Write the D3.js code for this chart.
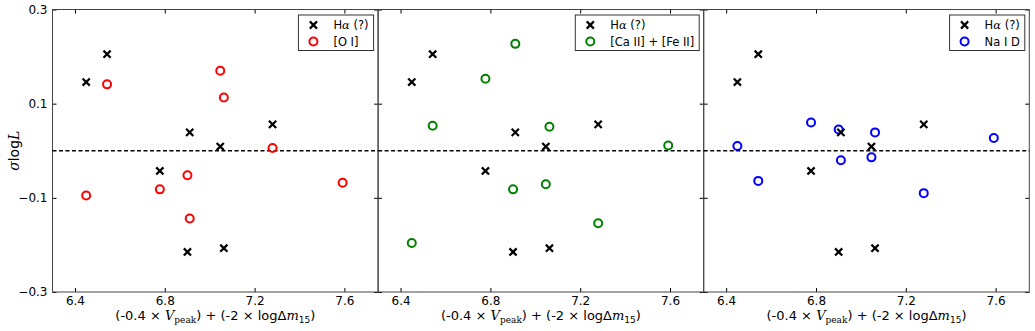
<!DOCTYPE html>
<html>
<head>
<meta charset="utf-8">
<script src="https://cdn.jsdelivr.net/npm/d3@7"></script>
<style>
	body{margin:0;background:#fff;}
	svg{display:block;font-family:"DejaVu Sans",sans-serif;}
</style>
</head>
<body>
<svg id="chart" width="1035" height="331"></svg>
<script>
// one x value per supernova, shared by every panel
const xVals = [6.450, 6.543, 6.778, 6.901, 6.911, 7.047, 7.063, 7.280, 7.592];
// H-alpha residuals (no value for the last object)
const haVals = [0.146, 0.205, -0.043, -0.215, 0.039, 0.009, -0.207, 0.056, null];
const oiVals = [-0.095, 0.141, -0.082, -0.052, -0.144, 0.170, 0.113, 0.006, -0.068];
const cafeVals = [-0.196, 0.053, 0.153, -0.082, 0.227, -0.071, 0.051, -0.154, 0.011];
const naidVals = [0.010, -0.064, 0.060, 0.045, -0.020, -0.014, 0.039, -0.090, 0.027];

const xTicks = [6.4, 6.8, 7.2, 7.6];
const yTicks = [-0.3, -0.1, 0.1, 0.3];
const panelNames = ["[O I]", "[Ca II] + [Fe II]", "Na I D"];
const panelColours = ["red", "green", "blue"];
const panelVals = [oiVals, cafeVals, naidVals];

let svg = d3.select("#chart");
let left = 52.5,
	panelW = 325.6,
	plotTop = 9.5,
	plotBottom = 292;

let y = d3.scaleLinear().domain([-0.3, 0.3]).range([plotBottom, plotTop]);

// cross marker path, centred on 0,0
function cross(s){
	return `M${-s},${-s}L${s},${s}M${-s},${s}L${s},${-s}`;
}

panelNames.forEach((name, i) => {
	let x0 = left + i*panelW;
	let x = d3.scaleLinear().domain([6.3, 7.75]).range([x0, x0 + panelW]);
	let g = svg.append("g");

	// axes, ticks pointing inward
	g.append("g").attr("transform", `translate(0,${plotBottom})`)
		.call(d3.axisBottom(x).tickValues(xTicks).tickSizeInner(-4).tickSizeOuter(0).tickPadding(4).tickFormat(d3.format(".1f")));
	g.append("g").attr("transform", `translate(0,${plotTop})`)
		.call(d3.axisTop(x).tickValues(xTicks).tickSizeInner(-4).tickSizeOuter(0).tickFormat(""));
	g.append("g").attr("transform", `translate(${x0},0)`)
		.call(d3.axisLeft(y).tickValues(yTicks).tickSizeInner(-4).tickSizeOuter(0).tickPadding(5)
			.tickFormat(i == 0 ? d3.format(".1f") : ""));
	g.append("g").attr("transform", `translate(${x0 + panelW},0)`)
		.call(d3.axisRight(y).tickValues(yTicks).tickSizeInner(-4).tickSizeOuter(0).tickFormat(""));

	g.selectAll(".domain").remove();
	g.selectAll(".tick line").attr("stroke", "#000");
	g.selectAll(".tick text").attr("fill", "#000").style("font-size", "12px").style("font-family", "DejaVu Sans");

	// frame
	g.append("rect")
		.attr("x", x0).attr("y", plotTop)
		.attr("width", panelW).attr("height", plotBottom - plotTop)
		.attr("fill", "none").attr("stroke", "#444").attr("stroke-width", 1);

	// zero line
	g.append("line")
		.attr("x1", x0).attr("x2", x0 + panelW)
		.attr("y1", y(0)).attr("y2", y(0))
		.attr("stroke", "#000").attr("stroke-width", 1.4)
		.attr("stroke-dasharray", "4,2.5");

	// circles for the line in question
	let vals = panelVals[i];
	g.selectAll("circle.pt")
		.data(xVals.map((d, j) => ({x: d, y: vals[j]})).filter(d => d.y != null))
		.join("circle")
		.attr("class", "pt")
		.attr("cx", d => x(d.x)).attr("cy", d => y(d.y))
		.attr("r", 4)
		.attr("fill", "none")
		.attr("stroke", panelColours[i]).attr("stroke-width", 2);

	// H-alpha crosses
	g.selectAll("path.ha")
		.data(xVals.map((d, j) => ({x: d, y: haVals[j]})).filter(d => d.y != null))
		.join("path")
		.attr("class", "ha")
		.attr("transform", d => `translate(${x(d.x)},${y(d.y)})`)
		.attr("d", cross(3.6))
		.attr("stroke", "#000").attr("stroke-width", 2.2);

	// x label
	let xl = g.append("text")
		.attr("x", x0 + panelW/2).attr("y", 320)
		.attr("text-anchor", "middle")
		.style("font-size", "13px");
	xl.append("tspan").text("(-0.4 \u00d7 ");
	xl.append("tspan").text("V").style("font-family", "DejaVu Serif").style("font-style", "italic");
	xl.append("tspan").text("peak").style("font-family", "DejaVu Serif").style("font-size", "9px").attr("dy", 2.5);
	xl.append("tspan").text(") + (-2 \u00d7 log\u0394").attr("dy", -2.5);
	xl.append("tspan").text("m").style("font-family", "DejaVu Serif").style("font-style", "italic");
	xl.append("tspan").text("15").style("font-size", "9px").attr("dy", 2.5);
	xl.append("tspan").text(")").attr("dy", -2.5);

	// legend
	let lg = g.append("g");
	let box = lg.append("rect")
		.attr("fill", "#fff").attr("stroke", "#333").attr("stroke-width", 1);
	let t1 = lg.append("text").attr("x", 35).attr("y", 14).style("font-size", "11.5px");
	t1.append("tspan").text("H");
	t1.append("tspan").text("\u03b1").style("font-family", "DejaVu Serif").style("font-style", "italic");
	t1.append("tspan").text(" (?)");
	let t2 = lg.append("text").attr("x", 35).attr("y", 30.5).style("font-size", "11.5px").text(name);
	lg.append("path").attr("transform", "translate(15,10)").attr("d", cross(3.6))
		.attr("stroke", "#000").attr("stroke-width", 2.2);
	lg.append("circle").attr("cx", 15).attr("cy", 26.5).attr("r", 4)
		.attr("fill", "none").attr("stroke", panelColours[i]).attr("stroke-width", 2);
	let tw = Math.max(t1.node().getComputedTextLength(), t2.node().getComputedTextLength());
	let bw = 35 + tw + 5;
	box.attr("width", bw).attr("height", 35.5);
	lg.attr("transform", `translate(${x0 + panelW - 4.5 - bw},15)`);
});

// y label
let yl = svg.append("text")
	.attr("transform", `translate(19,${y(0)}) rotate(-90)`)
	.attr("text-anchor", "middle")
	.style("font-size", "14px");
yl.append("tspan").text("\u03c3").style("font-family", "DejaVu Serif").style("font-style", "italic");
yl.append("tspan").text("log");
yl.append("tspan").text("L").style("font-family", "DejaVu Serif").style("font-style", "italic");
</script>
</body>
</html>
